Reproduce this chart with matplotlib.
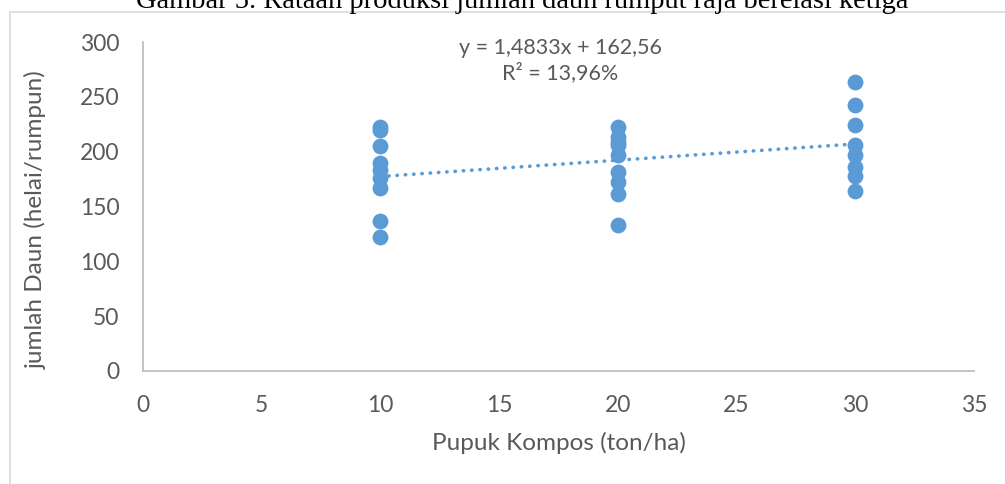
import matplotlib.pyplot as plt
from matplotlib.patches import Rectangle

# pupuk kompos dose (ton/ha) and leaf counts per clump
dosis_10 = [222.8, 219.8, 205.4, 189.4, 183.3, 175.7, 166.6, 137.1, 121.9]
dosis_20 = [222.8, 213.7, 209.0, 206.0, 197.0, 181.7, 172.6, 161.4, 133.1]
dosis_30 = [263.8, 242.6, 224.3, 206.1, 197.0, 185.8, 177.8, 164.4]
dosis = [10, 20, 30]

# linear trend as given by the label
slope = 1.4833
intercept = 162.56
r2_text = "13,96%"

xticks = [0, 5, 10, 15, 20, 25, 30, 35]
yticks = [0, 50, 100, 150, 200, 250, 300]

blue = "#5B9BD5"
grey_text = "#595959"
plt.rcParams["font.family"] = ["Lato", "DejaVu Sans"]

fig = plt.figure(figsize=(10.05, 4.84), dpi=100)
ax = fig.add_axes([0.1423, 0.2335, 0.8269, 0.6797])

# chart frame
fig.patches.append(Rectangle((10 / 1005, -0.1), 1.1, 1 - 12 / 484 + 0.1,
                             transform=fig.transFigure, fill=False,
                             edgecolor="#D9D9D9", linewidth=1.2))
# caption sits on the page above the chart, only its lower part shows
fig.text(0.52, 1 - 8 / 484, "Gambar 5. Rataan produksi jumlah daun rumput raja berelasi ketiga",
         ha="center", va="baseline", fontsize=20.5, family="Liberation Serif", color="black")

xs, ys = [], []
for d, vals in zip(dosis, [dosis_10, dosis_20, dosis_30]):
    xs += [d] * len(vals)
    ys += vals
ax.scatter(xs, ys, s=130, color=blue, zorder=3, linewidths=0)

tx = [min(dosis), max(dosis)]
ty = [slope * x + intercept for x in tx]
ax.plot(tx, ty, color=blue, linewidth=2.6, linestyle=(0, (0.1, 2.2)),
        dash_capstyle="round", zorder=2)

eq = f"y = {str(slope).replace('.', ',')}x + {str(intercept).replace('.', ',')}"
ax.text(17.56, 294.5, eq, ha="center", va="center", fontsize=15.5, color=grey_text)
ax.text(17.56, 271.7, f"R² = {r2_text}", ha="center", va="center", fontsize=15.5, color=grey_text)

ax.set_xlim(0, 35)
ax.set_ylim(0, 300)
ax.set_xticks(xticks)
ax.set_yticks(yticks)
ax.tick_params(length=0, labelsize=16.5, colors=grey_text, pad=17)
for s in ["top", "right"]:
    ax.spines[s].set_visible(False)
for s in ["left", "bottom"]:
    ax.spines[s].set_color("#BFBFBF")
    ax.spines[s].set_linewidth(1.3)

ax.set_xlabel("Pupuk Kompos (ton/ha)", fontsize=17.5, color=grey_text, labelpad=12)
ax.set_ylabel("jumlah Daun (helai/rumpun)", fontsize=17.5, color=grey_text)
ax.yaxis.set_label_coords(-0.1155, 0.459)

fig.savefig("out.png", dpi=100)
